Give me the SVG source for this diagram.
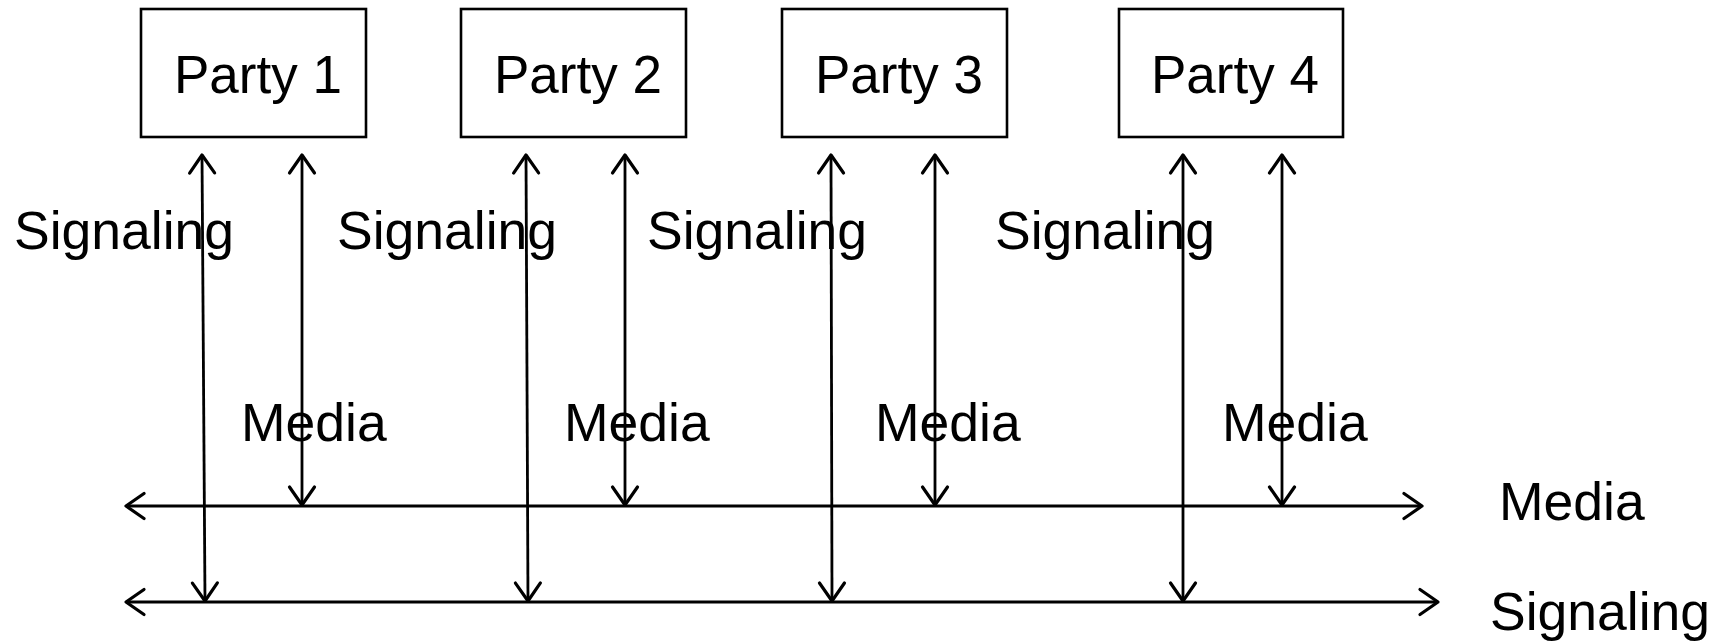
<svg xmlns="http://www.w3.org/2000/svg" width="1722" height="641" viewBox="0 0 1722 641">
<style>
.box{fill:#fff;stroke:#000;stroke-width:2.6}
.t{font-family:"Liberation Sans",Arial,Helvetica,sans-serif;font-size:53.5px;fill:#000}
.p{font-size:53px}
.c{fill:none;stroke:#000;stroke-width:2.8}
</style>
<defs>
<marker id="ah" markerUnits="userSpaceOnUse" orient="auto-start-reverse" overflow="visible" refX="0" refY="0" markerWidth="1" markerHeight="1">
<path d="M-18,-12.5 L0,0 L-18,12.5" fill="none" stroke="#000" stroke-width="3.2" stroke-linecap="round" stroke-linejoin="round"/>
</marker>
</defs>
<rect width="1722" height="641" fill="#fff"/>
<g id="party1"><rect class="box" x="141" y="9" width="225" height="128"/><text class="t p" x="174" y="93">Party 1</text></g>
<g id="party2"><rect class="box" x="461" y="9" width="225" height="128"/><text class="t p" x="494" y="93">Party 2</text></g>
<g id="party3"><rect class="box" x="782" y="9" width="225" height="128"/><text class="t p" x="815" y="93">Party 3</text></g>
<g id="party4"><rect class="box" x="1119" y="9" width="224" height="128"/><text class="t p" x="1151" y="93">Party 4</text></g>
<g id="connectors">
<line class="c" x1="126" y1="506" x2="1422" y2="506" marker-start="url(#ah)" marker-end="url(#ah)"/>
<line class="c" x1="126" y1="602" x2="1438" y2="602" marker-start="url(#ah)" marker-end="url(#ah)"/>
<line class="c" x1="202" y1="155" x2="205" y2="601" marker-start="url(#ah)" marker-end="url(#ah)"/>
<line class="c" x1="302" y1="155" x2="302" y2="505" marker-start="url(#ah)" marker-end="url(#ah)"/>
<line class="c" x1="526" y1="155" x2="528" y2="601" marker-start="url(#ah)" marker-end="url(#ah)"/>
<line class="c" x1="625" y1="155" x2="625" y2="505" marker-start="url(#ah)" marker-end="url(#ah)"/>
<line class="c" x1="831" y1="155" x2="832" y2="601" marker-start="url(#ah)" marker-end="url(#ah)"/>
<line class="c" x1="935" y1="155" x2="935" y2="505" marker-start="url(#ah)" marker-end="url(#ah)"/>
<line class="c" x1="1183" y1="155" x2="1183" y2="601" marker-start="url(#ah)" marker-end="url(#ah)"/>
<line class="c" x1="1282" y1="155" x2="1282" y2="505" marker-start="url(#ah)" marker-end="url(#ah)"/>
</g>
<g id="labels">
<text class="t" x="14" y="249">Signaling</text>
<text class="t" x="337" y="249">Signaling</text>
<text class="t" x="647" y="249">Signaling</text>
<text class="t" x="995" y="249">Signaling</text>
<text class="t" x="241" y="441">Media</text>
<text class="t" x="564" y="441">Media</text>
<text class="t" x="875" y="441">Media</text>
<text class="t" x="1222" y="441">Media</text>
<text class="t" x="1499" y="520">Media</text>
<text class="t" x="1490" y="630">Signaling</text>
</g>
</svg>
